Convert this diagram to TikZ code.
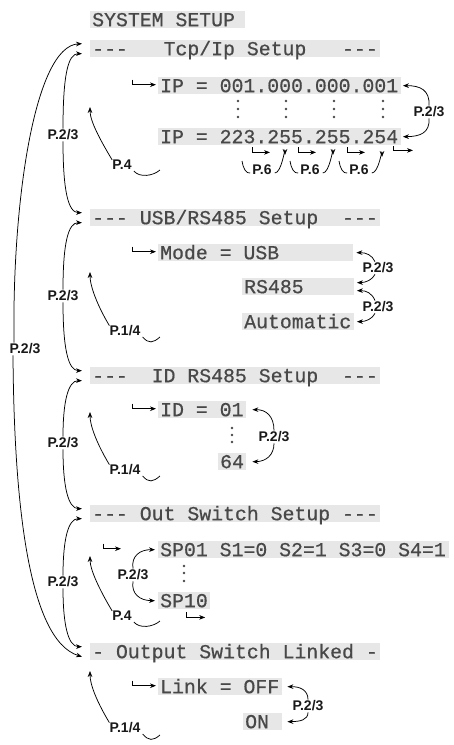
\documentclass[tikz,border=0pt]{standalone}
\usepackage{fontspec}
\usetikzlibrary{arrows.meta}
\newfontfamily\lcdfont[FakeBold=0.6]{Liberation Mono}
\newfontfamily\lblfont{Liberation Sans}
\definecolor{lcdtext}{RGB}{72,72,72}
\definecolor{lcdfill}{RGB}{231,231,231}
\newcommand\ls{\makebox[11.9pt]{}}
\tikzset{
 lcdbox/.style={fill=lcdfill, text=lcdtext, font=\lcdfont\fontsize{19.83}{20}\selectfont,
   anchor=north west, inner xsep=2pt, inner ysep=2pt, text height=13pt, text depth=0pt, align=left},
 lbl/.style={font=\lblfont\bfseries\fontsize{14}{15}\selectfont, inner sep=1pt, text=black!90},
 arr/.style={-{Stealth[length=6pt,width=4.6pt]}, line width=0.75pt},
 ln/.style={line width=0.75pt},
}
\begin{document}
\begin{tikzpicture}[x=1pt,y=-1pt]
\useasboundingbox (0,0) rectangle (454,745);
% ---------- LCD boxes ----------
\node[lcdbox, text width=151pt] (sys) at (90,11) {SYSTEM\ls SETUP};
\node[lcdbox, text width=286pt] (tcp) at (90,40) {---\ls\ls\ls Tcp/Ip\ls Setup\ls\ls\ls ---};
\node[lcdbox, text width=238.5pt] (ip1) at (158,77) {IP\ls=\ls001.000.000.001};
\node[lcdbox, text width=238.5pt] (ip2) at (158,128) {IP\ls=\ls223.255.255.254};
\node[lcdbox, text width=286pt] (usb) at (90,209) {---\ls USB/RS485\ls Setup\ls\ls ---};
\node[lcdbox, text width=191pt] (mode) at (158,244) {Mode\ls=\ls USB};
\node[lcdbox, text width=107.5pt] (rs) at (242,278) {RS485};
\node[lcdbox, text width=107.5pt] (auto) at (242,313) {Automatic};
\node[lcdbox, text width=286pt] (id) at (90,367) {---\ls\ls ID\ls RS485\ls Setup\ls\ls ---};
\node[lcdbox, text width=84pt] (id1) at (158,401) {ID\ls=\ls01};
\node[lcdbox, text width=24pt] (id64) at (218,453) {64};
\node[lcdbox, text width=286pt] (out) at (90,505) {---\ls Out\ls Switch\ls Setup\ls ---};
\node[lcdbox, text width=286.5pt] (sp01) at (158,541) {SP01\ls S1=0\ls S2=1\ls S3=0\ls S4=1};
\node[lcdbox, text width=48pt] (sp10) at (158,592) {SP10};
\node[lcdbox, text width=286pt] (osl) at (90,643) {-\ls Output\ls Switch\ls Linked\ls -};
\node[lcdbox, text width=120pt] (lnk) at (158,678) {Link\ls=\ls OFF};
\node[lcdbox, text width=35pt] (on) at (243,713) {ON};
% ---------- vertical dots ----------
\foreach \x in {238,286,334,383} \foreach \y in {101,109,117} \fill[lcdtext] (\x,\y) circle (1.3pt);
\foreach \y in {428,435,442} \fill[lcdtext] (232,\y) circle (1.3pt);
\foreach \y in {566,573,581} \fill[lcdtext] (184,\y) circle (1.3pt);
% ---------- left arrow tips ----------
\foreach \n in {tcp,usb,id,out,osl}{
  \coordinate (\n A) at ([xshift=-8pt,yshift=5pt]\n.west);
  \coordinate (\n B) at ([xshift=-8pt,yshift=-5pt]\n.west);
}
% ---------- left labels and curves ----------
\node[lbl] (l0) at (25,349) {P.2/3};
\node[lbl] (l1) at (63,135) {P.2/3};
\node[lbl] (l2) at (63,296) {P.2/3};
\node[lbl] (l3) at (63,443) {P.2/3};
\node[lbl] (l4) at (63,582) {P.2/3};
\draw[arr] ([xshift=-11pt]l0.north) .. controls (12,200) and (35,46) .. (tcpA);
\draw[arr] ([xshift=-12pt]l0.south) .. controls (14,500) and (28,640) .. (oslB);
\draw[arr] (l1.north) .. controls (63,75) and (68,53.5) .. (tcpB);
\draw[arr] (l1.south) .. controls (63,190) and (68,212.5) .. (usbA);
\draw[arr] (l2.north) .. controls (63,244) and (68,222.5) .. (usbB);
\draw[arr] (l2.south) .. controls (63,348) and (68,370.5) .. (idA);
\draw[arr] (l3.north) .. controls (63,402) and (68,380.5) .. (idB);
\draw[arr] (l3.south) .. controls (63,486) and (68,508.5) .. (outA);
\draw[arr] (l4.north) .. controls (63,540) and (68,518.5) .. (outB);
\draw[arr] (l4.south) .. controls (63,624) and (68,646.5) .. (oslA);
% ---------- back arrows (P.4 / P.1/4) ----------
\node[lbl] (b1) at (122,165) {P.4};
\node[lbl] (b2) at (125,331) {P.1/4};
\node[lbl] (b3) at (125,470) {P.1/4};
\node[lbl] (b4) at (122,616) {P.4};
\node[lbl] (b5) at (125,728) {P.1/4};
\coordinate (b1t) at (90,107);  \coordinate (b1e) at (160,170);
\coordinate (b2t) at (90,272);  \coordinate (b2e) at (160,337);
\coordinate (b3t) at (90,412);  \coordinate (b3e) at (160,476);
\coordinate (b4t) at (90,556);  \coordinate (b4e) at (160,621);
\coordinate (b5t) at (90,671);  \coordinate (b5e) at (160,735);
\foreach \b in {b1,b2,b3,b4,b5}{
  \draw[arr] ([xshift=1pt,yshift=-1pt]\b.north west) .. controls +(-12,-20) and +(0,14) .. (\b t);
  \draw[ln] ([xshift=1pt,yshift=-6pt]\b.east) .. controls +(6,7) and +(-7,6) .. (\b e);
}
% ---------- right-side P.2/3 arrows ----------
\node[lbl] (r1) at (429,112) {P.2/3};
\draw[arr] (r1.north) .. controls (430,90) and (420,85.5) .. ([xshift=2pt]ip1.east);
\draw[arr] (r1.south) .. controls (430,133) and (420,136.5) .. ([xshift=2pt]ip2.east);
\node[lbl] (r2) at (378,268) {P.2/3};
\node[lbl] (r3) at (378,307) {P.2/3};
\draw[arr] ([xshift=-3pt]r2.north) .. controls (372,255) and (366,252.5) .. ([xshift=3pt]mode.east);
\draw[arr] ([xshift=-3pt]r2.south) .. controls (372,280) and (366,282.5) .. ([xshift=3pt,yshift=4pt]rs.east);
\draw[arr] ([xshift=-3pt]r3.north) .. controls (372,293) and (366,290.5) .. ([xshift=3pt,yshift=-4pt]rs.east);
\draw[arr] ([xshift=-3pt]r3.south) .. controls (372,319) and (366,321.5) .. ([xshift=3pt]auto.east);
\node[lbl] (r4) at (274,437) {P.2/3};
\draw[arr] (r4.north) .. controls (274,416) and (266,409.5) .. ([xshift=6pt]id1.east);
\draw[arr] (r4.south) .. controls (274,455) and (266,461.5) .. ([xshift=6pt]id64.east);
\node[lbl] (r5) at (133,575) {P.2/3};
\draw[arr] (r5.north) .. controls (131,556) and (140,549.5) .. ([xshift=-3pt]sp01.west);
\draw[arr] (r5.south) .. controls (131,594) and (140,600.5) .. ([xshift=-3pt]sp10.west);
\node[lbl] (r6) at (308,706) {P.2/3};
\draw[arr] (r6.north) .. controls (308,690) and (300,686.5) .. ([xshift=5pt]lnk.east);
\draw[arr] (r6.south) .. controls (308,720) and (300,721.5) .. ([xshift=5pt]on.east);
% ---------- hook arrows ----------
\foreach \n in {ip1,mode,id1,lnk}
  \draw[arr] ([xshift=-26pt,yshift=6pt]\n.west) |- ([xshift=-2pt,yshift=1pt]\n.west);
\draw[arr] ([xshift=-55pt,yshift=6pt]sp01.west) |- ([xshift=-37pt,yshift=1pt]sp01.west);
\draw[arr] ([xshift=2pt,yshift=-3pt]sp10.south) |- ([xshift=21pt,yshift=-8pt]sp10.south);
\foreach \a/\e in {94/112,140/158,189/207}
  \draw[arr] ([xshift=\a pt,yshift=-2pt]ip2.south west) |- ([xshift=\e pt,yshift=-7pt]ip2.south west);
\draw[arr] ([xshift=235pt,yshift=-1pt]ip2.south west) |- ([xshift=255pt,yshift=-5pt]ip2.south west);
% ---------- P.6 row ----------
\node[lbl] (p1) at (262,170) {P.6};
\node[lbl] (p2) at (310,170) {P.6};
\node[lbl] (p3) at (359,170) {P.6};
\coordinate (p1s) at (242,161); \coordinate (p1t) at (285,155);
\coordinate (p2s) at (290,161); \coordinate (p2t) at (333,155);
\coordinate (p3s) at (339,161); \coordinate (p3t) at (382,157);
\foreach \p in {p1,p2,p3}{
  \draw[ln] (\p s) .. controls +(1,7) and +(-4,1) .. ([xshift=-1pt,yshift=-3pt]\p.west);
  \draw[arr] ([xshift=2pt,yshift=-3pt]\p.east) .. controls +(7,0) and +(0,-9) .. (\p t);
}
\end{tikzpicture}
\end{document}
